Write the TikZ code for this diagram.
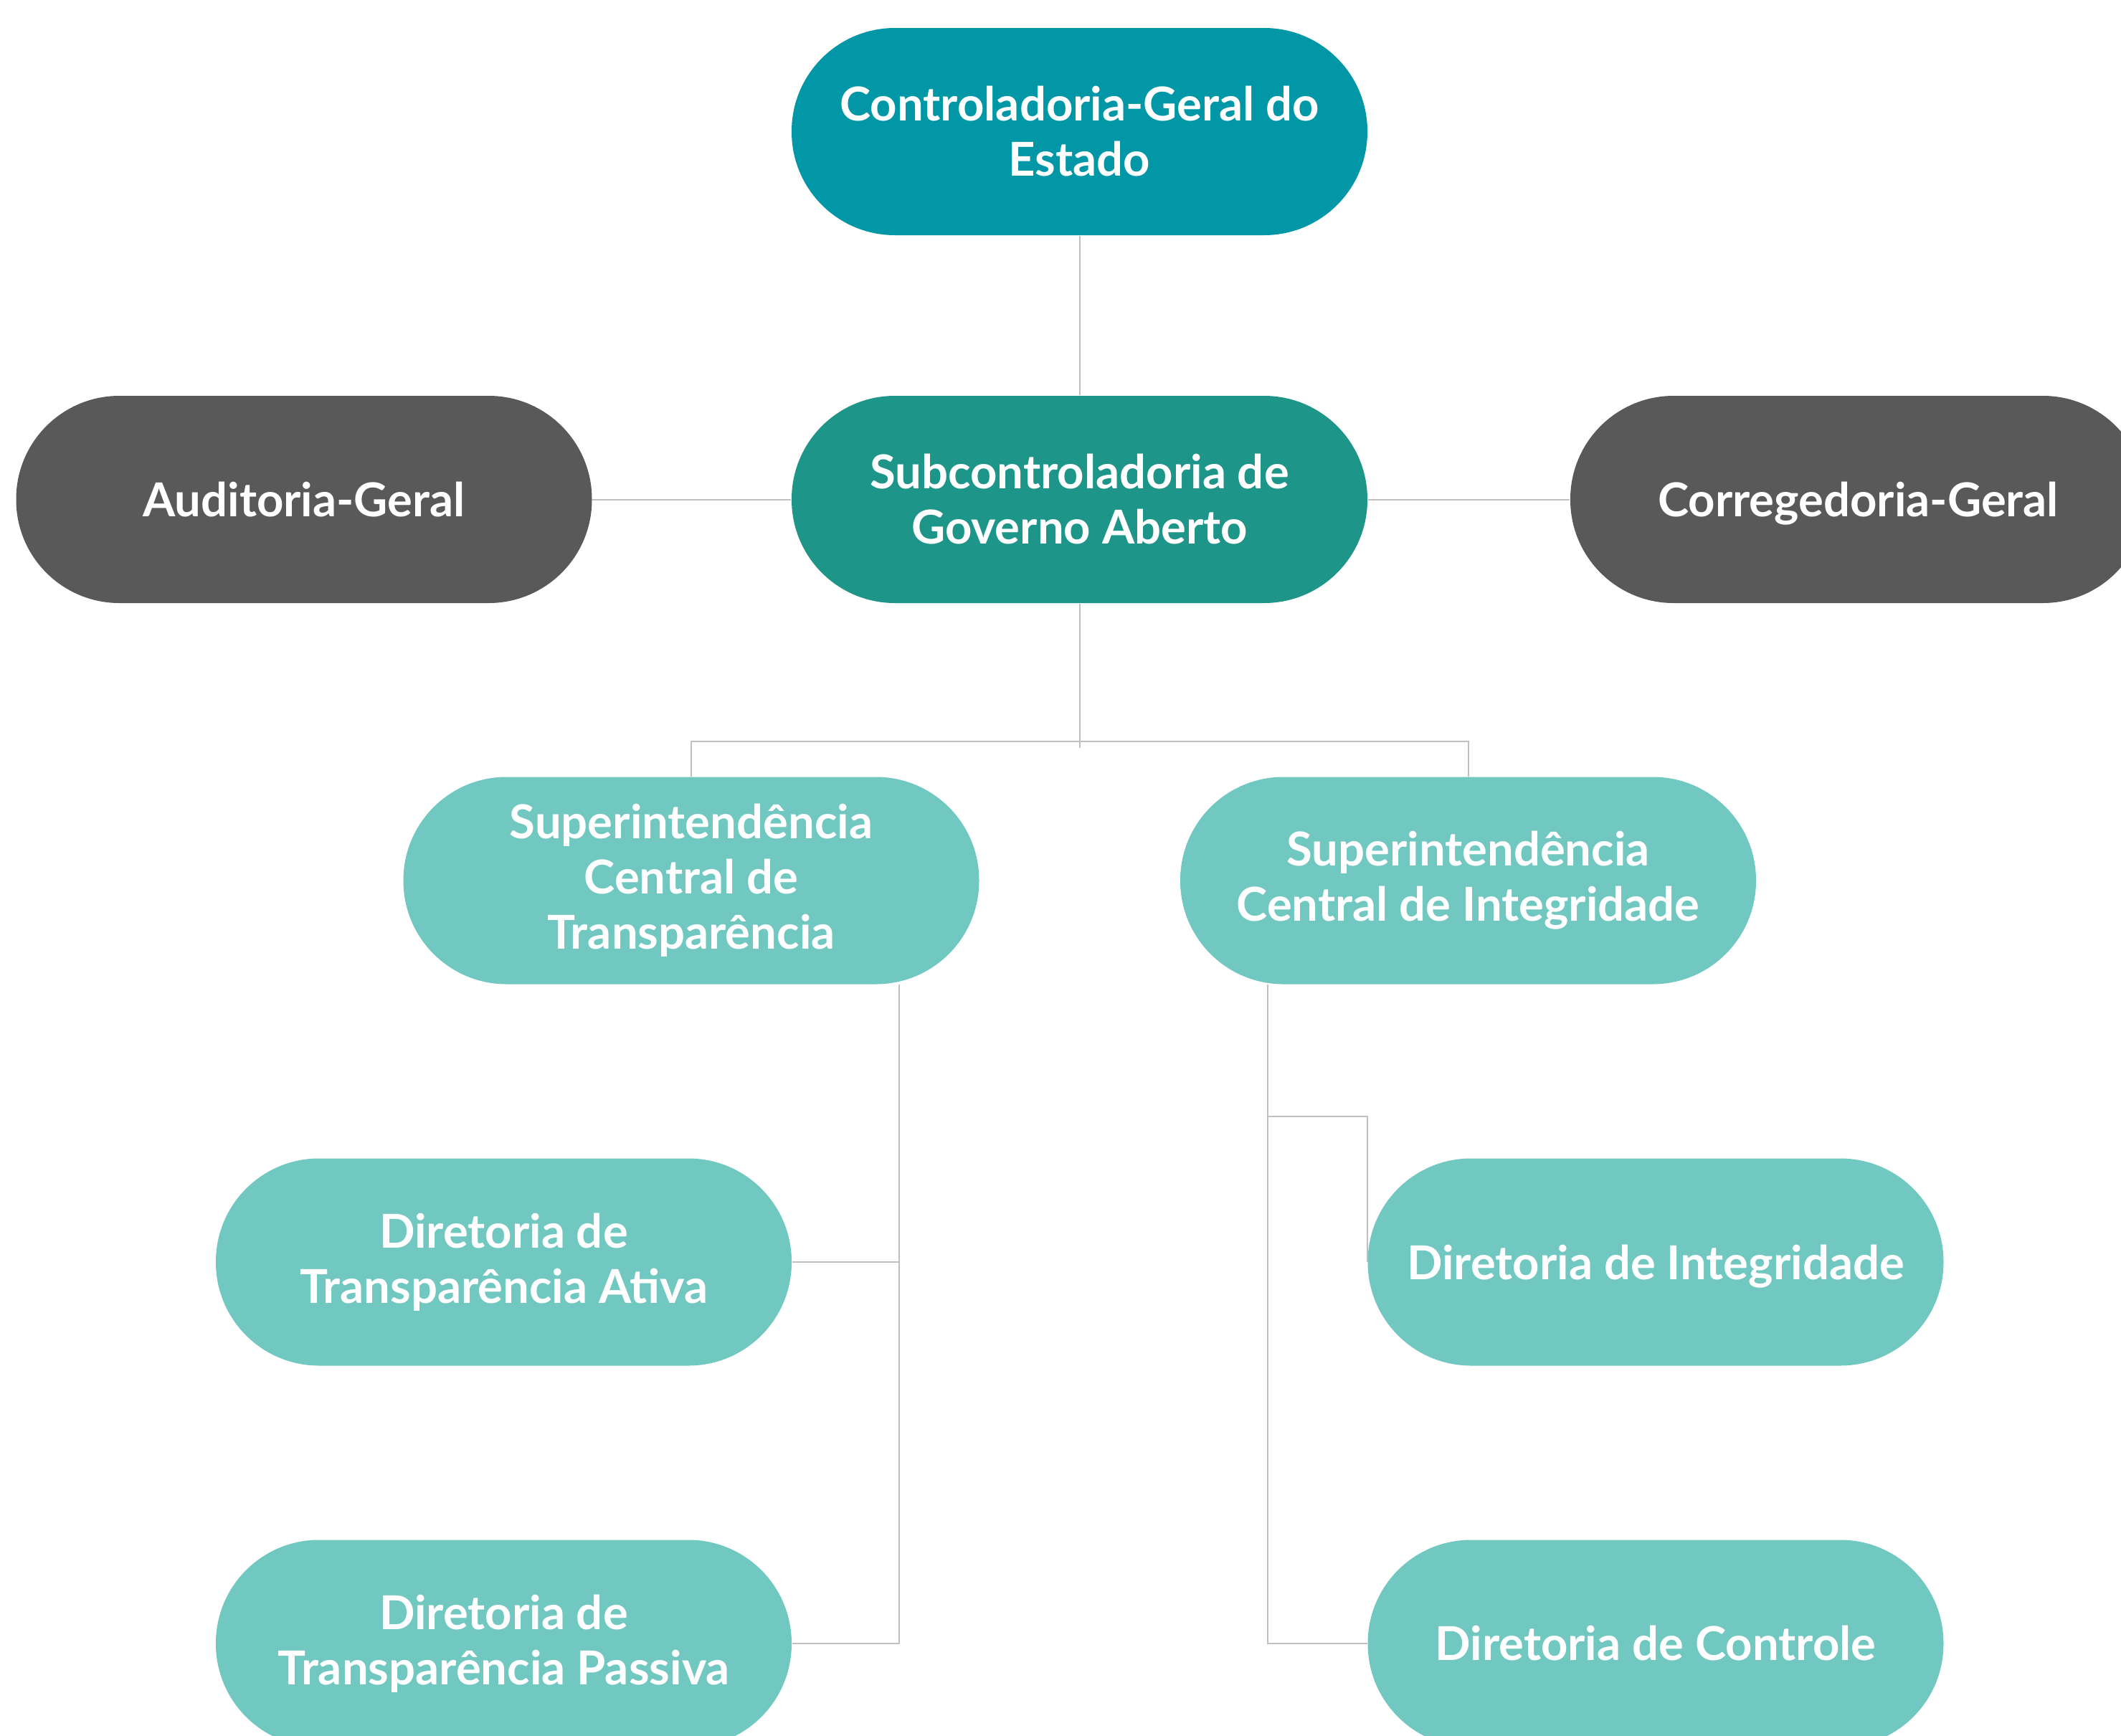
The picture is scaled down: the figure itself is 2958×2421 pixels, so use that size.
\documentclass[tikz,border=0pt]{standalone}
\usepackage{fontspec}
\setmainfont{Lato}
\usetikzlibrary{calc}
\definecolor{cgeC}{HTML}{0297A6}
\definecolor{subC}{HTML}{1E9589}
\definecolor{grayC}{HTML}{595959}
\definecolor{lightC}{HTML}{71C8C0}
\definecolor{lineC}{HTML}{C0C0C0}
\begin{document}
\begin{tikzpicture}[x=0.25pt,y=-0.25pt]
\tikzset{
  box/.style={rectangle, rounded corners=36pt, minimum width=200.75pt, minimum height=72.25pt,
    inner sep=0pt, text=white, align=center, font=\bfseries\fontsize{16.3}{19.25}\selectfont},
  nodesc/.style={text depth=0pt},
  conn/.style={draw=lineC, line width=0.5pt},
}
\useasboundingbox (0,0) rectangle (2958,2421);
\clip (0,0) rectangle (2958,2421);

\node[box, fill=cgeC] (cge) at (1505.5,183.5) {Controladoria-Geral do\\Estado};
\node[box, fill=subC] (sub) at (1505.5,696.5) {Subcontroladoria de\\Governo Aberto};
\node[box, fill=grayC] (aud) at (424,696.5) {Auditoria-Geral};
\node[box, nodesc, fill=grayC] (cor) at (2591.5,696.5) {Corregedoria-Geral};
\node[box, fill=lightC] (sct) at (964,1228) {Superintendência\\Central de\\Transparência};
\node[box, fill=lightC] (sci) at (2047.5,1228) {Superintendência\\Central de Integridade};
\node[box, fill=lightC] (dta) at (702.5,1760) {Diretoria de\\Transparência Ativa};
\node[box, fill=lightC] (dtp) at (702.5,2292) {Diretoria de\\Transparência Passiva};
\node[box, nodesc, fill=lightC] (di) at (2309,1760) {Diretoria de Integridade};
\node[box, fill=lightC] (dc) at (2309,2292) {Diretoria de Controle};

\draw[conn] (cge.south) -- (sub.north);
\draw[conn] (aud.east) -- (sub.west);
\draw[conn] (sub.east) -- (cor.west);

\coordinate (bus) at (1505.5,1034);
\coordinate (busend) at (1505.5,1043);
\draw[conn] (sub.south) -- (busend);
\draw[conn] (sct.north) -- (sct.north |- bus) -- (sci.north |- bus) -- (sci.north);

\coordinate (tl) at ($(sct.south)+(290,0)$);
\draw[conn] (tl) -- (tl |- dtp.east) -- (dtp.east);
\draw[conn] (dta.east) -- (dta.east -| tl);

\coordinate (tr) at ($(sci.south)+(-279.5,0)$);
\coordinate (jog) at (1768,1557);
\draw[conn] (tr) -- (tr |- dc.west) -- (dc.west);
\draw[conn] (jog) -- (di.west |- jog) -- (di.west);
\end{tikzpicture}
\end{document}
